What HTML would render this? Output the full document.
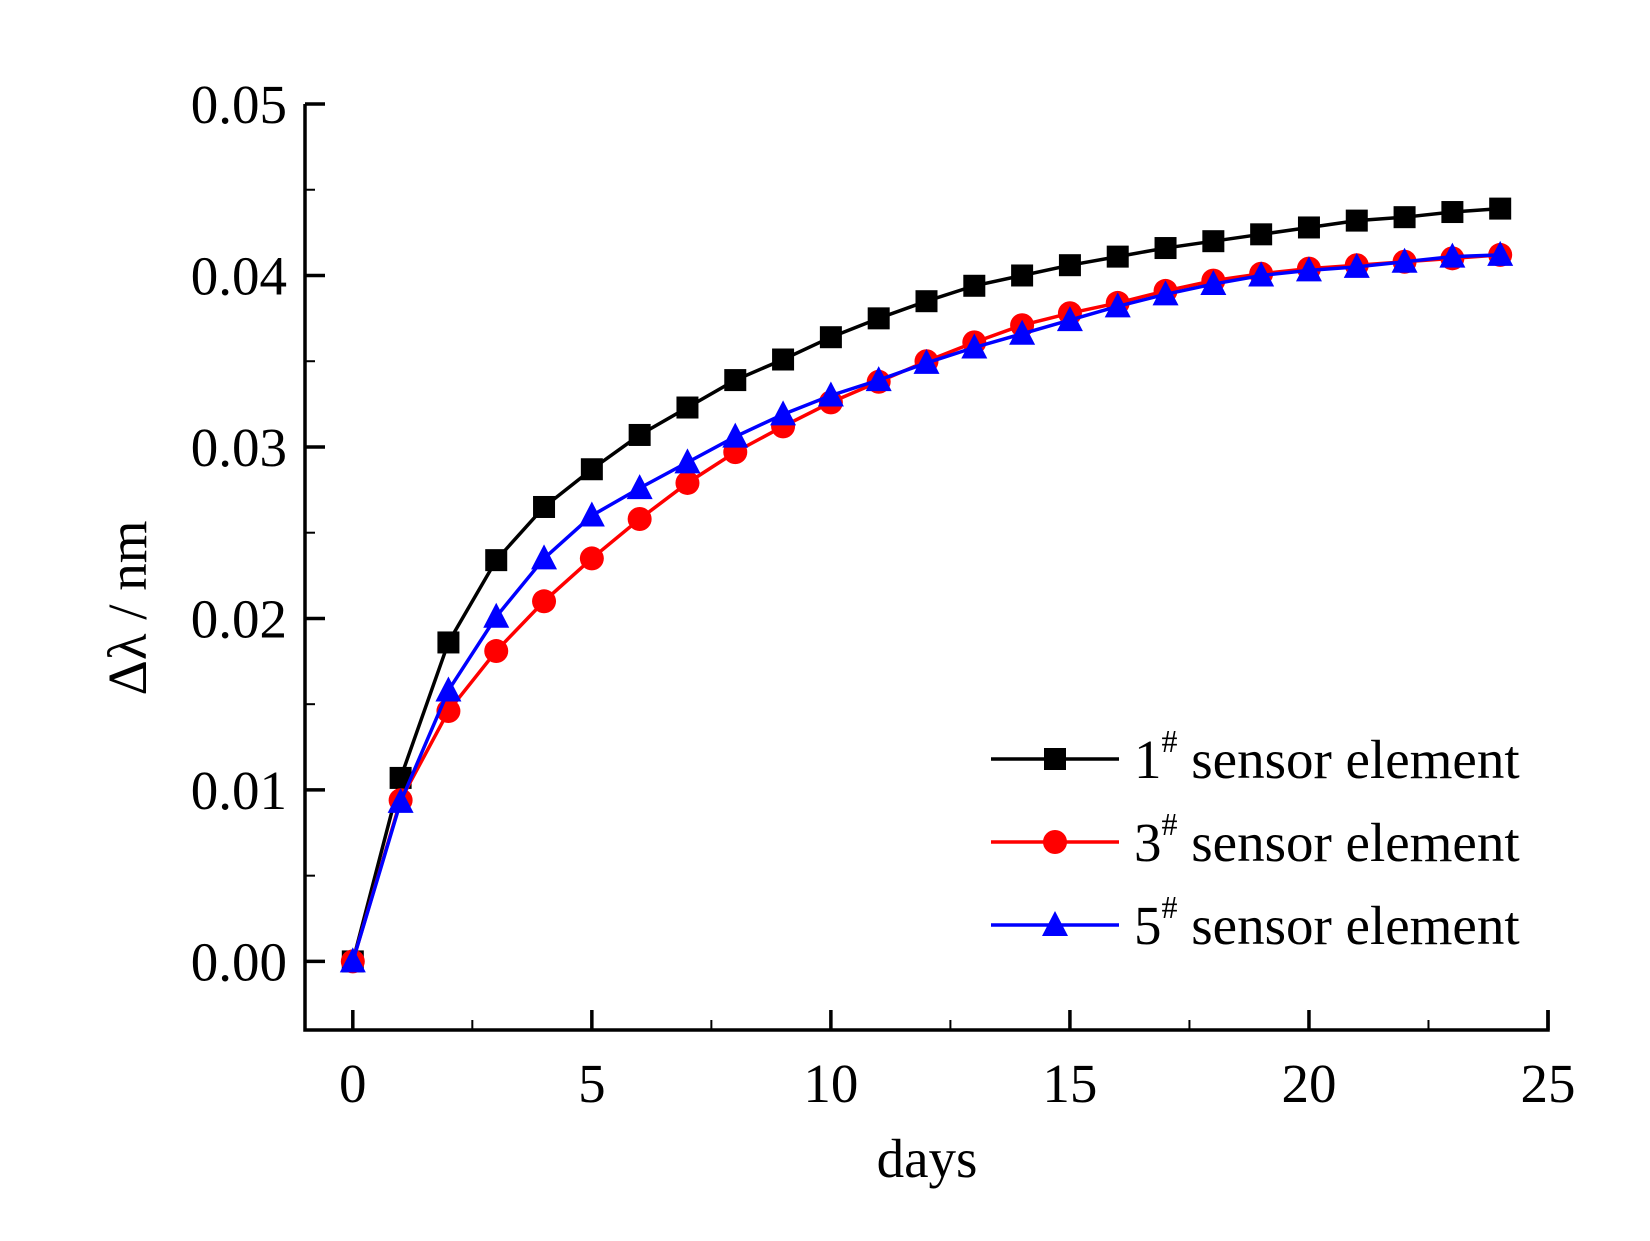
<!DOCTYPE html>
<html><head><meta charset="utf-8"><style>
body{margin:0;background:#fff}
svg text{font-family:"Liberation Serif",serif;fill:#000}
</style></head><body>
<svg id="c" width="1650" height="1236" xmlns="http://www.w3.org/2000/svg"></svg>
<script>
const days=[0,1,2,3,4,5,6,7,8,9,10,11,12,13,14,15,16,17,18,19,20,21,22,23,24];
const s1=[0,0.0107,0.0186,0.0234,0.0265,0.0287,0.0307,0.0323,0.0339,0.0351,0.0364,0.0375,0.0385,0.0394,0.0400,0.0406,0.0411,0.0416,0.0420,0.0424,0.0428,0.0432,0.0434,0.0437,0.0439];
const s3=[0,0.0094,0.0146,0.0181,0.0210,0.0235,0.0258,0.0279,0.0297,0.0312,0.0326,0.0338,0.0350,0.0361,0.0371,0.0378,0.0384,0.0391,0.0397,0.0401,0.0404,0.0406,0.0408,0.0410,0.0412];
const s5=[0,0.0093,0.0158,0.0201,0.0235,0.0260,0.0276,0.0291,0.0306,0.0319,0.0330,0.0339,0.0349,0.0358,0.0366,0.0374,0.0382,0.0389,0.0395,0.0400,0.0403,0.0405,0.0408,0.0411,0.0412];
const xTicks=[0,5,10,15,20,25];
const yTicks=[0,0.01,0.02,0.03,0.04,0.05];
const yLabels=["0.00","0.01","0.02","0.03","0.04","0.05"];
const L=305,R=1548,T=104,B=1030,xmin=-1,xmax=25,ymin=-0.0040,ymax=0.05;
const X=v=>L+(v-xmin)/(xmax-xmin)*(R-L);
const Y=v=>B-(v-ymin)/(ymax-ymin)*(B-T);
const svg=document.getElementById('c');
const NS='http://www.w3.org/2000/svg';
function mk(tag,attrs,parent){const e=document.createElementNS(NS,tag);for(const k in attrs)e.setAttribute(k,attrs[k]);(parent||svg).appendChild(e);return e;}
let e=mk('path',{d:`M${L},${T}V${B}H${R}V${B-20}`,fill:'none',stroke:'#000','stroke-width':3.5});


yTicks.forEach((v,i)=>{
 let t=mk('line',{x1:L,x2:L+20,y1:Y(v),y2:Y(v),stroke:'#000','stroke-width':3.5});
 
 
 let tx=mk('text',{x:L-18,y:Y(v)+19,'text-anchor':'end','font-size':55});
 tx.textContent=yLabels[i];
 
 
 if(i<yTicks.length-1){let m=mk('line',{x1:L,x2:L+10,y1:Y(v+0.005),y2:Y(v+0.005),stroke:'#000','stroke-width':2});
 
 }
});
xTicks.forEach((v,i)=>{
 let t=mk('line',{x1:X(v),x2:X(v),y1:B,y2:B-20,stroke:'#000','stroke-width':3.5});
 
 
 let tx=mk('text',{x:X(v),y:B+72,'text-anchor':'middle','font-size':55});
 tx.textContent=v;
 
 
 if(i<xTicks.length-1){let m=mk('line',{x1:X(v+2.5),x2:X(v+2.5),y1:B,y2:B-10,stroke:'#000','stroke-width':2});
 
 }
});
e=mk('text',{x:927,y:1177,'text-anchor':'middle','font-size':55});
e.textContent='days';


e=mk('text',{x:0,y:0,'text-anchor':'middle','font-size':55,transform:'translate(146,608) rotate(-90)'});
e.textContent='Δλ / nm';


function marker(kind,x,y,col,g){
 if(kind==='sq')return mk('rect',{x:x-11,y:y-11,width:22,height:22,fill:col},g);
 if(kind==='ci')return mk('circle',{cx:x,cy:y,r:12,fill:col},g);
 return mk('polygon',{points:`${x},${y-14} ${x-13},${y+11} ${x+13},${y+11}`,fill:col},g);
}
const series=[[s1,'#000','sq','1'],[s3,'#f00','ci','3'],[s5,'#00f','tr','5']];
series.forEach((s,si)=>{
 const g=mk('g',{});
 
 
 const p=mk('polyline',{points:days.map((d,i)=>X(d)+','+Y(s[0][i])).join(' '),fill:'none',stroke:s[1],'stroke-width':3.5},g);
 
 
 days.forEach((d,i)=>{const m=marker(s[2],X(d),Y(s[0][i]),s[1],g);
 
 });
 const ly=759+si*83;
 const lg=mk('g',{});
 
 
 mk('line',{x1:991,x2:1119,y1:ly,y2:ly,stroke:s[1],'stroke-width':3.5},lg);
 marker(s[2],1055,ly,s[1],lg);
 const t=mk('text',{x:1134,y:ly+19,'font-size':55},lg);
 t.innerHTML=s[3]+'<tspan dy="-26" font-size="32">#</tspan><tspan dy="26"> sensor element</tspan>';
});
</script>
</body></html>
